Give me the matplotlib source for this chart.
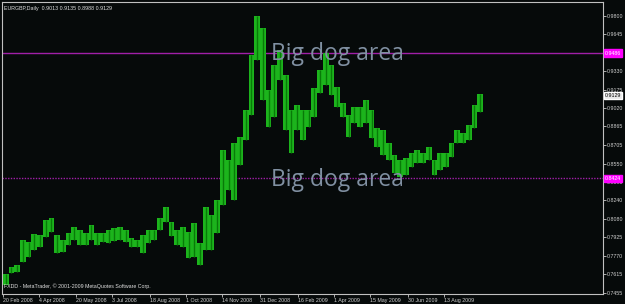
import pandas as pd
import matplotlib
matplotlib.use("Agg")
import matplotlib.pyplot as plt
import matplotlib.dates as mdates
import matplotlib.transforms as mtransforms

# EURGBP weekly ranges (week starting 20 Feb 2008)
week_high = [0.7616, 0.7675, 0.7692, 0.7904, 0.7887, 0.7955, 0.7946, 0.8073, 0.8090, 0.7946,
             0.7904, 0.7963, 0.8014, 0.7988, 0.7963, 0.8031, 0.7963, 0.7963, 0.7988, 0.8005,
             0.8014, 0.7988, 0.7921, 0.7904, 0.7946, 0.7988, 0.7988, 0.8090, 0.8183, 0.8056,
             0.7988, 0.8014, 0.7971, 0.8048, 0.7878, 0.8183, 0.8115, 0.8242, 0.8666, 0.8581,
             0.8725, 0.8776, 0.9004, 0.9470, 0.9800, 0.9698, 0.9174, 0.9385, 0.9512, 0.9301,
             0.9004, 0.9046, 0.9004, 0.9004, 0.9190, 0.9343, 0.9487, 0.9385, 0.9199, 0.9063,
             0.8962, 0.9030, 0.9030, 0.9089, 0.9004, 0.8852, 0.8835, 0.8725, 0.8623, 0.8581,
             0.8598, 0.8640, 0.8666, 0.8640, 0.8691, 0.8581, 0.8640, 0.8640, 0.8725, 0.8835,
             0.8809, 0.8877, 0.9046, 0.9140]
week_low = [0.7523, 0.7624, 0.7632, 0.7717, 0.7760, 0.7820, 0.7844, 0.7929, 0.7971, 0.7794,
            0.7802, 0.7861, 0.7904, 0.7861, 0.7861, 0.7904, 0.7861, 0.7887, 0.7878, 0.7895,
            0.7904, 0.7887, 0.7844, 0.7844, 0.7794, 0.7878, 0.7904, 0.7988, 0.8056, 0.7937,
            0.7861, 0.7844, 0.7751, 0.7760, 0.7692, 0.7820, 0.7820, 0.7963, 0.8200, 0.8327,
            0.8242, 0.8539, 0.8750, 0.8962, 0.9427, 0.9089, 0.8860, 0.8945, 0.9258, 0.8835,
            0.8640, 0.8835, 0.8750, 0.8860, 0.8945, 0.9148, 0.9216, 0.9131, 0.9030, 0.8945,
            0.8776, 0.8894, 0.8860, 0.8894, 0.8767, 0.8691, 0.8623, 0.8581, 0.8471, 0.8437,
            0.8454, 0.8522, 0.8555, 0.8555, 0.8581, 0.8454, 0.8496, 0.8522, 0.8606, 0.8725,
            0.8725, 0.8750, 0.8852, 0.8987]

# axis labels
price_ticks = [0.9800, 0.9645, 0.9330, 0.9175, 0.9020, 0.8865, 0.8705, 0.8550,
               0.8395, 0.8240, 0.8080, 0.7925, 0.7770, 0.7615, 0.7455]
date_ticks = ["2008-02-20", "2008-04-04", "2008-05-20", "2008-07-03", "2008-08-18",
              "2008-10-01", "2008-11-14", "2008-12-31", "2009-02-16", "2009-04-01",
              "2009-05-15", "2009-06-30", "2009-08-13"]
date_labels = ["20 Feb 2008", "4 Apr 2008", "20 May 2008", "3 Jul 2008", "18 Aug 2008",
               "1 Oct 2008", "14 Nov 2008", "31 Dec 2008", "16 Feb 2009", "1 Apr 2009",
               "15 May 2009", "30 Jun 2009", "13 Aug 2009"]

level_high = 0.9486
level_low = 0.8424
last_price = 0.9129

weeks = pd.date_range("2008-02-20", periods=len(week_high), freq="7D")
heights = [h - l for h, l in zip(week_high, week_low)]

bg = "#060a0a"
fig = plt.figure(figsize=(6.25, 3.04), dpi=100, facecolor=bg)
ax = fig.add_axes([2 / 625, 10 / 304, 601 / 625, 292 / 304], facecolor=bg)

# weekly range blocks, bright green with a darker core like the daily bars
ax.bar(weeks, heights, bottom=week_low, width=7, align="edge",
       color="#1cb41c", edgecolor="none", zorder=3)
ax.vlines(weeks + pd.Timedelta(days=3.5), week_low, week_high,
          color="#087a08", lw=1.0, zorder=3)

# big dog lines
ax.axhline(level_high, color="#a01fa8", lw=1.0, zorder=2)
ax.axhline(level_low, color="#a01fa8", lw=1.0, ls=(0, (1, 1)), zorder=2)
txt_x = mdates.date2num(pd.Timestamp("2009-01-13"))
for lvl in (level_high, level_low):
    ax.text(txt_x, lvl - 0.0060, "Big dog area", color="#8090a2", fontsize=16.5,
            family="Open Sans", va="baseline", ha="left", zorder=4)

ax.set_ylim(0.7446, 0.9918)
ax.set_xlim(pd.Timestamp("2008-02-19"), pd.Timestamp("2010-02-24"))

ax.yaxis.tick_right()
ax.set_yticks(price_ticks)
ax.set_yticklabels([f"{p:.4f}" for p in price_ticks])
ax.set_xticks(pd.to_datetime(date_ticks))
ax.set_xticklabels(date_labels, ha="left")
off = mtransforms.ScaledTranslation(1.5 / 100, 0, fig.dpi_scale_trans)
for lbl in ax.get_xticklabels():
    lbl.set_transform(lbl.get_transform() + off)
ax.tick_params(colors="#c8c8c8", labelcolor="#d0d0d0", labelsize=3.8,
               length=2, width=0.6, pad=1)
for lbl in ax.get_xticklabels() + ax.get_yticklabels():
    lbl.set_family("Liberation Sans")
for s in ax.spines.values():
    s.set_color("#c0c0c0")
    s.set_linewidth(0.8)

# price boxes on right scale
ytrans = mtransforms.blended_transform_factory(ax.transAxes, ax.transData)
for lvl in (level_high, level_low):
    ax.text(1.003, lvl, f"{lvl:.4f}", transform=ytrans, fontsize=3.8, color="white",
            family="Liberation Sans", va="center", ha="left", clip_on=False, zorder=6,
            bbox=dict(boxstyle="square,pad=0.2", fc="#ff00ff", ec="#ff00ff"))
ax.text(1.003, last_price, f"{last_price:.4f}", transform=ytrans, fontsize=3.8,
        color="black", family="Liberation Sans", va="center", ha="left", clip_on=False,
        zorder=6, bbox=dict(boxstyle="square,pad=0.2", fc="#e8e8e8", ec="#ffffff"))

ax.text(0.004, 0.985, "EURGBP,Daily  0.9013 0.9135 0.8988 0.9129", transform=ax.transAxes,
        fontsize=3.8, color="#e0e0e0", family="Liberation Sans", va="top", ha="left")
ax.text(0.004, 0.018, "FXDD - MetaTrader, \u00a9 2001-2009 MetaQuotes Software Corp.",
        transform=ax.transAxes, fontsize=3.8, color="#e0e0e0", family="Liberation Sans",
        va="bottom", ha="left")

fig.savefig("out.png", dpi=100, facecolor=bg)
